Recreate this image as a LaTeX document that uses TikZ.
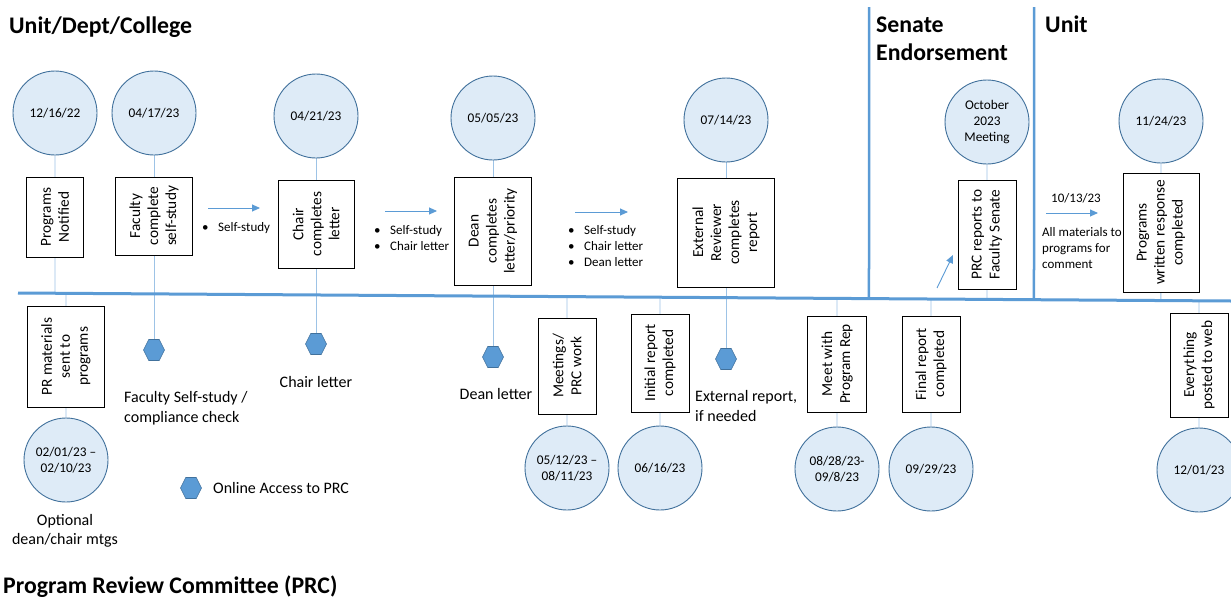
\documentclass[tikz,border=0pt]{standalone}
\usepackage{fontspec}
\setmainfont{Carlito}
\usetikzlibrary{shapes.geometric,arrows.meta,calc,backgrounds}
\definecolor{mainblue}{HTML}{5B9BD5}
\definecolor{darkblue}{HTML}{41719C}
\definecolor{lightfill}{HTML}{DEEBF7}
\definecolor{connblue}{HTML}{9DC3E6}
\newcommand\bul{\makebox[16pt][l]{•}}
\begin{document}
\begin{tikzpicture}[x=1pt,y=1pt,
 datec/.style={circle, draw=darkblue, line width=0.9pt, fill=lightfill, minimum size=84pt, inner sep=0pt, align=center, font=\fontsize{13.3}{16}\selectfont},
 vbox/.style 2 args={draw=black, line width=0.8pt, fill=white, rotate=90, align=center, inner sep=0pt, minimum height=#1, minimum width=#2, font=\fontsize{15.3}{18}\selectfont},
 hexn/.style={regular polygon, regular polygon sides=6, draw=darkblue, fill=mainblue, line width=0.6pt, minimum size=21pt, inner sep=0pt, yscale=1.15, transform shape},
 conn/.style={draw=connblue, line width=0.9pt},
 flow/.style={draw=mainblue, line width=0.9pt, -{Triangle[length=8pt,width=7pt]}},
 lbl/.style={font=\fontsize{16}{19.5}\selectfont, inner sep=0pt},
 small/.style={font=\fontsize{13}{16}\selectfont, align=left, inner sep=0pt},
 title/.style={font=\fontsize{23.8}{28}\selectfont\bfseries, anchor=base west, inner sep=0pt},
]
\useasboundingbox (0,0) rectangle (1231,-597);
\begin{scope}[on background layer]
\fill[white] (0,0) rectangle (1231,-597);
\end{scope}

% titles
\node[title] (t1) at (9,-33) {Unit/Dept/College};
\node[title] (t2) at (876,-32) {Senate};
\node[title] (t3) at (876,-60) {Endorsement};
\node[title] (t4) at (1045,-32) {Unit};
\node[title] (t5) at (3,-593) {Program Review Committee (PRC)};

% main line and separators
\coordinate (ml) at (18,-293);
\coordinate (mr) at (1231,-301);
\draw[mainblue, line width=3pt] (ml) -- (mr);
\coordinate (s1) at (869,-7);
\coordinate (s2) at (1034,-7);
\draw[mainblue, line width=2.5pt] (s1) -- (intersection of ml--mr and s1--{869,-100});
\draw[mainblue, line width=2.5pt] (s2) -- (intersection of ml--mr and s2--{1034,-100});

% upper circles
\node[datec] (c1) at (55,-113) {12/16/22};
\node[datec] (c2) at (154,-113) {04/17/23};
\node[datec] (c3) at (316,-116) {04/21/23};
\node[datec] (c4) at (493,-118) {05/05/23};
\node[datec] (c5) at (726,-120) {07/14/23};
\node[datec] (c6) at (987,-122) {October\\2023\\Meeting};
\node[datec] (c7) at (1161,-121) {11/24/23};

% upper boxes
\node[vbox={57pt}{80pt}] (b1) at (55,-217) {Programs\\Notified};
\node[vbox={77pt}{78pt}] (b2) at (154,-216) {Faculty\\complete\\self-study};
\node[vbox={76pt}{88pt}] (b3) at (316,-224) {Chair\\completes\\letter};
\node[vbox={77pt}{108pt}] (b4) at (493,-231) {Dean\\completes\\letter/priority};
\node[vbox={97pt}{109pt}] (b5) at (726,-232.5) {External\\Reviewer\\completes\\report};
\node[vbox={58pt}{109pt}] (b6) at (987,-234.5) {PRC reports to\\Faculty Senate};
\node[vbox={76pt}{119pt}] (b7) at (1161,-232.5) {Programs\\written response\\completed};

% hexagons
\node[hexn] (h2) at (154,-350) {};
\node[hexn] (h3) at (316,-344) {};
\node[hexn] (h4) at (493,-357) {};
\node[hexn] (h5) at (726,-359) {};
\node[hexn] (hl) at (191,-488) {};

% lower boxes
\node[vbox={77pt}{101pt}] (p1) at (66,-356.5) {PR materials\\sent to\\programs};
\node[vbox={58pt}{96pt}] (p2) at (567,-366) {Meetings/\\PRC work};
\node[vbox={58pt}{98pt}] (p3) at (660,-363) {Initial report\\completed};
\node[vbox={59pt}{96pt}] (p4) at (837,-364) {Meet with\\Program Rep};
\node[vbox={58pt}{96pt}] (p5) at (931,-364) {Final report\\completed};
\node[vbox={58pt}{104pt}] (p6) at (1199,-365) {Everything\\posted to web};

% lower circles
\node[datec] (d1) at (66,-460) {02/01/23 –\\02/10/23};
\node[datec] (d2) at (567,-468) {05/12/23 –\\08/11/23};
\node[datec] (d3) at (660,-468) {06/16/23};
\node[datec] (d4) at (837,-469) {08/28/23-\\09/8/23};
\node[datec] (d5) at (931,-469) {09/29/23};
\node[datec] (d6) at (1199,-470) {12/01/23};

% labels
\node[lbl, align=center] (l1) at (65,-531) {Optional\\dean/chair mtgs};
\node[lbl, align=left, anchor=west] (l2) at (124,-408) {Faculty Self-study /\\compliance check};
\node[lbl] (l3) at (316,-382) {Chair letter};
\node[lbl] (l4) at (496,-394) {Dean letter};
\node[lbl, align=left, anchor=west] (l5) at (695,-406) {External report,\\if needed};
\node[lbl, anchor=west] (l6) at (213,-488) {Online Access to PRC};

% bullet lists
\node[small, anchor=west] (bl1) at (202,-228) {\bul Self-study};
\node[small, anchor=west] (bl2) at (374,-238) {\bul Self-study\\\bul Chair letter};
\node[small, anchor=west] (bl3) at (568,-246.5) {\bul Self-study\\\bul Chair letter\\\bul Dean letter};
\node[small, anchor=center] (dt) at (1076,-198) {10/13/23};
\node[small, anchor=west] (am) at (1042,-248) {All materials to\\programs for\\comment};

% flow arrows
\coordinate (a1s) at (208,-208); \coordinate (a1e) at (260,-208);
\coordinate (a2s) at (385,-211); \coordinate (a2e) at (437,-211);
\coordinate (a3s) at (575,-212); \coordinate (a3e) at (628,-212);
\coordinate (a4s) at (937,-288); \coordinate (a4e) at (953,-255);
\coordinate (a5s) at (1046,-213); \coordinate (a5e) at (1098,-213);
\draw[flow] (a1s) -- (a1e);
\draw[flow] (a2s) -- (a2e);
\draw[flow] (a3s) -- (a3e);
\draw[flow] (a4s) -- (a4e);
\draw[flow] (a5s) -- (a5e);

% connectors
\begin{scope}[on background layer]
\draw[conn] (c1) -- (intersection of ml--mr and c1--b1);
\draw[conn] (c2) -- (h2);
\draw[conn] (c3) -- (h3);
\draw[conn] (c4) -- (h4);
\draw[conn] (c5) -- (h5);
\draw[conn] (c6) -- (intersection of ml--mr and c6--b6);
\draw[conn] (c7) -- (intersection of ml--mr and c7--b7);
\draw[conn] (intersection of ml--mr and p1--d1) -- (d1);
\draw[conn] (intersection of ml--mr and p2--d2) -- (d2);
\draw[conn] (intersection of ml--mr and p3--d3) -- (d3);
\draw[conn] (intersection of ml--mr and p4--d4) -- (d4);
\draw[conn] (intersection of ml--mr and p5--d5) -- (d5);
\draw[conn] (intersection of ml--mr and p6--d6) -- (d6);
\end{scope}
\end{tikzpicture}
\end{document}
